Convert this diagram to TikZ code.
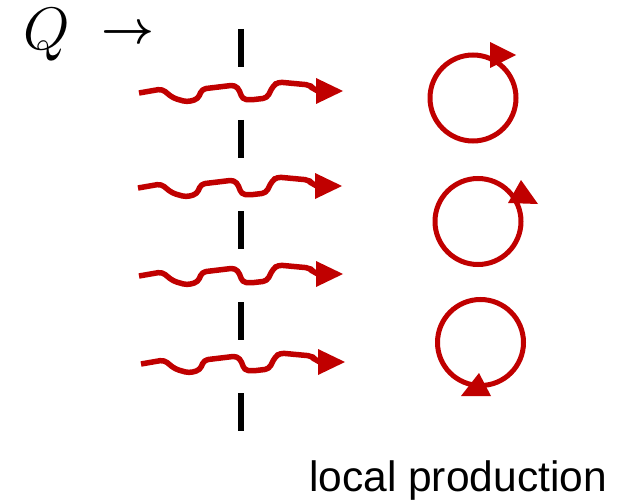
\documentclass[tikz,border=0pt]{standalone}
\usepackage{fix-cm}
\usepackage{bm}
\usepackage{fontspec}
\newfontfamily\labelfont{Liberation Sans}
\definecolor{wred}{HTML}{C00000}
\tikzset{
  wavy/.style={draw=wred, line width=5.5pt, rounded corners=4pt, line join=round},
  head/.style={fill=wred, draw=none},
  ring/.style={draw=wred, line width=5pt},
  cutline/.style={draw=black, line width=5.5pt, dash pattern=on 38pt off 53pt},
}
\newcommand{\wavepath}{(-204,2) -- (-181,-2) -- (-170,7) -- (-156,11) -- (-145,8) -- (-141,-2) -- (-116,-5) -- (-108,-6) -- (-103,0) -- (-101,8) -- (-93,9) -- (-76,7) -- (-70,-5) -- (-65,-9) -- (-33,-6) -- (-30,-2) -- (-25,0)}
\newcommand{\wavehead}{(-27,-13) -- (0,0) -- (-27,13) -- cycle}
\begin{document}
\begin{tikzpicture}[x=1pt,y=-1pt]
\useasboundingbox (0,0) rectangle (629,500);
% labels
\node[inner sep=0, anchor=base west] (q) at (23,50) {\fontsize{60}{68}\selectfont$Q$};
\node[inner sep=0, anchor=base west] (arr) at (101,43.5) {\fontsize{46}{54}\selectfont$\bm{\rightarrow}$};
\node[inner sep=0, anchor=base west] (lp) at (309,491) {\labelfont\fontsize{42.5}{50}\selectfont local production};
% cut line
\coordinate (ctop) at (241,29);
\coordinate (cbot) at (241,431);
\draw[cutline] (ctop) -- (cbot);
% wavy lines
\foreach \tx/\ty in {343/91, 342/186, 343/274, 345/362}{
  \begin{scope}[shift={(\tx,\ty)}]
    \draw[wavy] \wavepath;
    \fill[head] \wavehead;
  \end{scope}
}
% rings
\coordinate (c1) at (473,98);
\coordinate (c2) at (478,221.5);
\coordinate (c3) at (480.5,342.5);
\draw[ring] (c1) circle[radius=43];
\draw[ring] (c2) circle[radius=43];
\draw[ring] (c3) circle[radius=43];
\fill[head] (490,42) -- (516,55) -- (490,68) -- cycle;
\fill[head] (521,180) -- (538,204) -- (508,203) -- cycle;
\fill[head] (479,373) -- (491,396) -- (461,396) -- cycle;
\end{tikzpicture}
\end{document}
